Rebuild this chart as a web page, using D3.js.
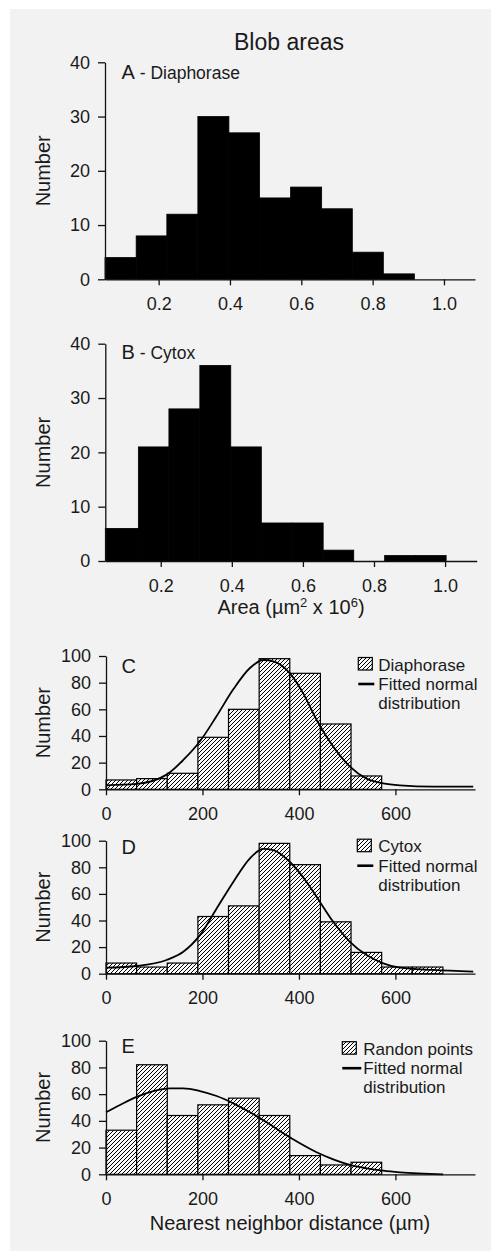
<!DOCTYPE html>
<html lang="en">
<head>
<meta charset="UTF-8">
<title>Blob areas</title>
<script src="https://d3js.org/d3.v7.min.js"></script>
<style>
  body { margin: 0; background: #fff; }
  svg { display: block; font-family: "Liberation Sans", Arial, sans-serif; }
  .axis path, .axis line { stroke: #111; stroke-width: 1.3; }
  .axis text { font-size: 18px; fill: #1a1a1a; font-family: "Liberation Sans", Arial, sans-serif; }
</style>
</head>
<body>
<svg width="491" height="1251"></svg>
<script>
// bin edges and counts
const areaEdges = [0.04, 0.137, 0.223, 0.31, 0.397, 0.483, 0.57, 0.657, 0.743, 0.83, 0.917, 1.003];
const diaphoraseArea = [4, 8, 12, 30, 27, 15, 17, 13, 5, 1];
const cytoxArea = [6, 21, 28, 36, 21, 7, 7, 2, 0, 1, 1];
const areaTicks = [0.2, 0.4, 0.6, 0.8, 1.0];
const areaCountTicks = [0, 10, 20, 30, 40];

const distEdges = [0, 63.5, 127, 190.5, 254, 317.5, 381, 444.5, 508, 571.5, 635, 698.5];
const diaphoraseDist = [7, 8, 12, 39, 60, 98, 87, 49, 10];
const cytoxDist = [8, 5, 8, 43, 51, 98, 82, 39, 16, 5, 5];
const randomDist = [33, 82, 44, 52, 57, 44, 14, 7, 9];
const distTicks = [0, 200, 400, 600];
const distCountTicks = [0, 20, 40, 60, 80, 100];

// fitted normal curves
const diaphoraseFit = [[0, 3], [63.6, 4], [125.7, 11], [160.3, 22], [194.8, 36], [229.4, 55], [263.9, 75],
  [298.4, 91], [326, 97], [346.8, 96], [381.3, 87], [408.9, 72], [436.7, 52], [471.1, 32], [505.7, 17],
  [540.3, 8], [574.8, 4.5], [609.3, 3], [678.4, 2], [761.3, 2]];
const cytoxFit = [[0, 4.5], [63.6, 5.8], [125.7, 10.3], [160.3, 16.5], [194.8, 29], [229.4, 49], [263.9, 69],
  [298.4, 86.8], [326, 93.8], [346.8, 93], [381.3, 84], [415.9, 69], [443.5, 54], [471.1, 39], [505.7, 24],
  [540.3, 14], [574.8, 7.8], [609.3, 4.5], [678.4, 2.8], [761.3, 1.5]];
const randomFit = [[0, 46.4], [29, 51.9], [63.6, 58], [98, 62.3], [132.6, 64.3], [160.3, 64.3], [194.8, 62.3],
  [229.4, 58.6], [263.9, 53.1], [298.4, 46.4], [333, 38.9], [367.5, 30.7], [402, 23.2], [436.6, 16.5],
  [471.1, 11.2], [505.7, 7], [540.3, 4.5], [574.8, 2.7], [609.3, 1.5], [699, 0]];

const svg = d3.select("svg");

svg.append("rect")
    .attr("x", 10).attr("y", 9)
    .attr("width", 481).attr("height", 1242)
    .attr("fill", "#f2f2f2");

// hatch pattern
const defs = svg.append("defs");
const pat = defs.append("pattern")
    .attr("id", "hatch")
    .attr("patternUnits", "userSpaceOnUse")
    .attr("width", 4).attr("height", 4);
pat.append("rect").attr("width", 4).attr("height", 4).attr("fill", "#fafafa");
pat.append("path")
    .attr("d", "M-1,1 l2,-2 M0,4 l4,-4 M3,5 l2,-2")
    .attr("stroke", "#000")
    .attr("stroke-width", 1);

svg.append("text")
    .attr("x", 289).attr("y", 50)
    .attr("text-anchor", "middle")
    .attr("font-size", 23)
    .attr("fill", "#1a1a1a")
    .text("Blob areas");

function drawPanel(p) {
    const x = d3.scaleLinear().domain(p.xDomain).range(p.xRange);
    const y = d3.scaleLinear().domain(p.yDomain).range(p.yRange);
    const g = svg.append("g");

    // bars
    g.selectAll("rect.bar")
        .data(p.counts.map((c, i) => ({ c, x0: Math.max(p.edges[i], p.xDomain[0]), x1: p.edges[i + 1] })))
        .join("rect")
        .attr("class", "bar")
        .filter(d => d.c > 0)
        .attr("x", d => x(d.x0))
        .attr("width", d => x(d.x1) - x(d.x0))
        .attr("y", d => y(d.c))
        .attr("height", d => y(0) - y(d.c))
        .attr("fill", p.hatched ? "url(#hatch)" : "#000")
        .attr("stroke", "#000")
        .attr("stroke-width", p.hatched ? 1.2 : 0.8);

    if (p.fit) {
        g.append("path")
            .datum(p.fit)
            .attr("fill", "none")
            .attr("stroke", "#000")
            .attr("stroke-width", 1.8)
            .attr("d", d3.line().x(d => x(d[0])).y(d => y(d[1])).curve(d3.curveMonotoneX));
    }

    // axes
    g.append("g")
        .attr("class", "axis")
        .attr("transform", `translate(0,${y(0)})`)
        .call(d3.axisBottom(x).tickValues(p.xTicks).tickFormat(p.xFormat)
            .tickSize(6).tickSizeOuter(0).tickPadding(12));
    g.append("g")
        .attr("class", "axis")
        .attr("transform", `translate(${x(p.xDomain[0])},0)`)
        .call(d3.axisLeft(y).tickValues(p.yTicks).tickFormat(d3.format("d"))
            .tickSize(7).tickSizeOuter(0).tickPadding(8));
    g.selectAll(".axis .domain").attr("stroke-width", 1.3);

    // y title
    const yc = (p.yRange[0] + p.yRange[1]) / 2;
    g.append("text")
        .attr("transform", `translate(50,${yc}) rotate(-90)`)
        .attr("text-anchor", "middle")
        .attr("font-size", 20)
        .attr("fill", "#1a1a1a")
        .text("Number");

    // panel letter
    const lab = g.append("text")
        .attr("x", 121.5).attr("y", p.labelY)
        .attr("font-size", 20)
        .attr("fill", "#1a1a1a");
    lab.append("tspan").text(p.letter);
    if (p.sub) lab.append("tspan").attr("font-size", 17.5).text(" - " + p.sub);

    // legend
    if (p.legend) {
        const L = p.legend;
        const lg = g.append("g").attr("font-size", 17).attr("fill", "#1a1a1a");
        lg.append("rect")
            .attr("x", L.x).attr("y", L.y)
            .attr("width", 14).attr("height", 12.5)
            .attr("fill", "url(#hatch)")
            .attr("stroke", "#000").attr("stroke-width", 1.2);
        lg.append("text").attr("x", L.tx).attr("y", L.y + 13).text(L.name);
        lg.append("line")
            .attr("x1", L.x).attr("x2", L.x + L.lineW)
            .attr("y1", L.y + 26.5).attr("y2", L.y + 26.5)
            .attr("stroke", "#000").attr("stroke-width", 2.6);
        lg.append("text").attr("x", L.tx).attr("y", L.y + 32.5).text("Fitted normal");
        lg.append("text").attr("x", L.tx).attr("y", L.y + 51.5).text("distribution");
    }
}

const fmtArea = d3.format(".1f");
const fmtDist = d3.format("d");

drawPanel({ letter: "A", sub: "Diaphorase", labelY: 79, edges: areaEdges, counts: diaphoraseArea,
    xDomain: [0.0496, 1.087], xRange: [105, 475], yDomain: [0, 40], yRange: [279.3, 62.3],
    xTicks: areaTicks, yTicks: areaCountTicks, xFormat: fmtArea });
drawPanel({ letter: "B", sub: "Cytox", labelY: 359.3, edges: areaEdges, counts: cytoxArea,
    xDomain: [0.044, 1.089], xRange: [105.3, 476.7], yDomain: [0, 40], yRange: [561, 343.7],
    xTicks: areaTicks, yTicks: areaCountTicks, xFormat: fmtArea });

const areaTitle = svg.append("text")
    .attr("x", 291).attr("y", 614)
    .attr("text-anchor", "middle")
    .attr("font-size", 20)
    .attr("fill", "#1a1a1a");
areaTitle.append("tspan").text("Area (µm");
areaTitle.append("tspan").attr("font-size", 13).attr("dy", -7).text("2");
areaTitle.append("tspan").attr("dy", 7).text(" x 10");
areaTitle.append("tspan").attr("font-size", 13).attr("dy", -7).text("6");
areaTitle.append("tspan").attr("dy", 7).text(")");

drawPanel({ letter: "C", labelY: 672.7, edges: distEdges, counts: diaphoraseDist, hatched: true, fit: diaphoraseFit,
    xDomain: [0, 765], xRange: [106, 475], yDomain: [0, 100], yRange: [789.3, 656],
    xTicks: distTicks, yTicks: distCountTicks, xFormat: fmtDist,
    legend: { x: 358.3, y: 657.5, tx: 378.3, lineW: 16, name: "Diaphorase" } });
drawPanel({ letter: "D", labelY: 854, edges: distEdges, counts: cytoxDist, hatched: true, fit: cytoxFit,
    xDomain: [0, 765], xRange: [106, 475], yDomain: [0, 100], yRange: [973.7, 840.7],
    xTicks: distTicks, yTicks: distCountTicks, xFormat: fmtDist,
    legend: { x: 357.3, y: 839.2, tx: 378.3, lineW: 16, name: "Cytox" } });
drawPanel({ letter: "E", labelY: 1053.3, edges: distEdges, counts: randomDist, hatched: true, fit: randomFit,
    xDomain: [0, 765], xRange: [106, 475], yDomain: [0, 100], yRange: [1174.3, 1040.7],
    xTicks: distTicks, yTicks: distCountTicks, xFormat: fmtDist,
    legend: { x: 342.3, y: 1041.7, tx: 363.3, lineW: 19, name: "Randon points" } });

svg.append("text")
    .attr("x", 290).attr("y", 1230)
    .attr("text-anchor", "middle")
    .attr("font-size", 20)
    .attr("fill", "#1a1a1a")
    .text("Nearest neighbor distance (µm)");
</script>
</body>
</html>
